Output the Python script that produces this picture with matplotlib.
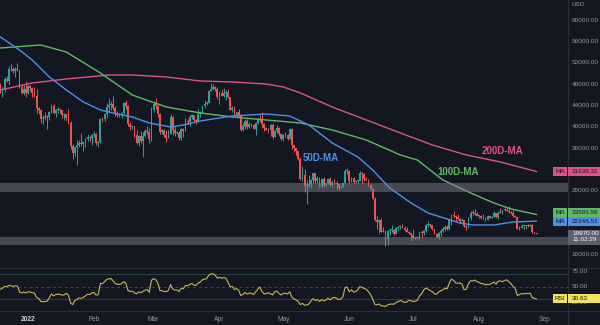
import numpy as np
import matplotlib.pyplot as plt
from matplotlib.patches import Rectangle
from matplotlib.lines import Line2D

plt.rcParams['font.family'] = ['Liberation Sans', 'DejaVu Sans']

# Daily BTC/USD candles from 19 Dec 2021 to 28 Aug 2022 (day 0 = 1 Jan 2022)
first_day = -13
first_open = 46880
closes = [
    # Dec
    46707, 46880, 48936, 48628, 50784, 50822, 50429, 50809, 50640, 47588, 46444, 47178, 46306,
    # Jan
    47686, 47345, 46458, 45897, 43569, 43160, 41558, 41734, 41912, 41821, 42735, 43949, 42591, 43099, 43177,
    43113, 42250, 42375, 41744, 40680, 36457, 35030, 36276, 36654, 36954, 36852, 37138, 37784, 38138, 37917, 38483,
    # Feb
    38743, 36952, 37154, 41501, 41441, 42412, 43840, 44118, 44338, 43565, 42407, 42244, 42197, 42586,
    44575, 43961, 40538, 40030, 40122, 38431, 37075, 38286, 37296, 38332, 39214, 39105, 37709, 43193,
    # Mar
    44354, 43925, 42451, 39137, 39400, 38420, 37988, 38730, 41941, 39439, 38794, 38904, 37849, 39666, 39338,
    41143, 40951, 41801, 42191, 41247, 41077, 42358, 42892, 43960, 44348, 44500, 46820, 47128, 47465, 47062, 45538,
    # Apr
    46281, 45868, 46453, 46622, 45555, 43206, 43503, 42287, 42782, 42207, 39521, 40127, 41166, 39936, 40553,
    40424, 39716, 40826, 41503, 41374, 40527, 39741, 39486, 39470, 40458, 38117, 39241, 39773, 38609, 37714,
    # May
    38469, 38529, 37750, 39698, 36575, 36040, 35501, 34059, 30297, 31023, 28936, 29048, 29284, 30102, 31305,
    29863, 30425, 28721, 30315, 29200, 29432, 30323, 29098, 29655, 29562, 29268, 28628, 28814, 29446, 31726, 31792,
    # Jun
    29800, 30452, 29700, 29865, 29919, 31373, 31125, 30204, 30110, 29084, 28424, 26575, 22487, 22206, 22572,
    20381, 20472, 19018, 20554, 20711, 20724, 19988, 21085, 21232, 21502, 21028, 20735, 20281, 20105, 19785,
    # Jul
    19270, 19243, 19297, 20232, 20190, 20549, 21637, 21732, 21592, 20861, 19970, 19323, 20212, 20569, 20837,
    21190, 20779, 22485, 23390, 23231, 23164, 22714, 22465, 22609, 21361, 21239, 22930, 23843, 23805, 23656, 23336,
    # Aug
    23314, 22978, 22846, 22630, 23289, 22961, 23175, 23810, 23149, 23954, 23934, 24403, 24441, 24305,
    24094, 23854, 23342, 23191, 20834, 21140, 21516, 21400, 21529, 21368, 21560, 20241, 20037, 19970,
]
highs = [
    48300, 47540, 49330, 49570, 51380, 51810, 51160, 51240, 52090, 50690, 48120, 47890, 48550,
    47830, 47950, 47560, 47500, 47070, 43750, 43280, 42300, 42790, 42220, 43080, 44280, 44400, 43440, 43750,
    43460, 43180, 42650, 42510, 43420, 41050, 36800, 36480, 37500, 37520, 38900, 37200, 38000, 38680, 38330, 38700,
    39230, 38850, 37400, 41720, 41920, 42600, 44480, 45490, 44790, 45820, 43900, 43000, 42700, 42850,
    44730, 44980, 44180, 40950, 40420, 40130, 39460, 38420, 39250, 38970, 39650, 40120, 39820, 43700,
    44930, 45350, 44090, 42530, 39610, 39630, 39450, 39370, 42500, 41990, 40190, 39330, 39260, 39890, 39870,
    41680, 41460, 42250, 42370, 42280, 41550, 43330, 42990, 44190, 45050, 44790, 46920, 48190, 48100, 47650, 47560,
    46690, 47180, 47400, 46870, 47170, 45600, 43900, 43950, 42800, 43380, 42420, 40670, 41490, 41450, 40850,
    40690, 40580, 40990, 41700, 42200, 42800, 40800, 39930, 39840, 40630, 40790, 39460, 40350, 39920, 38790,
    38660, 39150, 38640, 39900, 39830, 36620, 36140, 35510, 34300, 32610, 32150, 30050, 30960, 30270, 31400,
    31310, 30730, 30650, 30500, 30710, 29590, 30430, 30630, 29790, 30180, 29850, 29360, 28980, 29530, 32200, 32380,
    31960, 30620, 30660, 29920, 30150, 31710, 31550, 31300, 30650, 30310, 29390, 28540, 26880, 23290, 22710,
    22950, 21300, 20710, 20770, 21050, 21680, 20870, 21190, 21500, 21600, 21840, 21470, 21190, 20420, 20130,
    20820, 19370, 19580, 20300, 20670, 20620, 21800, 22410, 21880, 21620, 20880, 20040, 20290, 20850, 21190,
    21530, 21620, 22750, 23770, 24270, 23430, 23740, 22990, 23000, 22650, 21560, 23050, 24170, 24420, 24600, 24130,
    23470, 23450, 23620, 23200, 23430, 23360, 23330, 24230, 23920, 24170, 24880, 24440, 24880, 25050,
    25200, 24230, 24440, 23590, 23200, 21370, 21790, 21520, 21670, 21850, 21800, 21780, 20350, 20130,
]
lows = [
    46420, 45580, 46640, 48420, 47950, 50440, 50200, 49420, 50460, 47340, 46100, 46060, 45710,
    46220, 46750, 45700, 45530, 42650, 42510, 40670, 40500, 41250, 39650, 41290, 42600, 42350, 41880, 42660,
    42630, 41620, 41290, 41260, 40630, 35790, 34050, 34650, 32950, 36200, 36410, 35580, 36200, 37400, 37370, 36650,
    38110, 36660, 36270, 37050, 40920, 41130, 41700, 42730, 43140, 43240, 42060, 41800, 41880, 41600,
    42460, 43330, 40150, 39480, 39640, 38050, 36810, 36380, 37040, 34320, 38030, 38640, 37050, 37450,
    42850, 43340, 41860, 38680, 38610, 38090, 37180, 37880, 38660, 38570, 38260, 38670, 37600, 37610, 38170,
    39200, 40520, 40150, 41550, 40890, 40530, 40950, 41800, 42630, 43620, 44160, 44430, 46700, 46960, 46660, 45250,
    44230, 45820, 45540, 45150, 45450, 43150, 42770, 42140, 42120, 41910, 39230, 39260, 39600, 39620, 39800,
    40030, 39580, 38550, 40600, 40870, 39790, 39220, 39380, 38960, 38230, 37740, 38070, 38900, 38220, 37620,
    37420, 38100, 37550, 37680, 35880, 35300, 34800, 33740, 30040, 29830, 27800, 25600, 28780, 28630, 29540,
    29500, 29480, 28700, 28720, 28760, 28980, 29290, 28950, 28700, 29340, 28290, 28250, 28530, 28810, 29310, 31210,
    29330, 29600, 29340, 29470, 29500, 29890, 29220, 29880, 29970, 28860, 28160, 26560, 22320, 20850, 20110,
    20240, 20260, 17600, 17930, 19690, 20340, 19790, 19900, 20750, 20920, 20990, 20530, 20220, 19850, 18650,
    19020, 18980, 18850, 19070, 19330, 19820, 20270, 21190, 21330, 20680, 19900, 19250, 18920, 19650, 20390,
    20560, 20750, 20760, 21700, 22990, 22340, 22520, 21950, 22310, 21280, 20740, 21050, 22600, 23450, 23540, 23260,
    22870, 22700, 22720, 22450, 22600, 22900, 22870, 23170, 22900, 22700, 23860, 23610, 24330, 24160,
    23840, 23720, 23210, 23120, 20790, 20680, 21080, 20940, 20960, 21160, 21350, 20140, 19850, 19870,
]
rsi = [
    46, 47.5, 50.5, 50, 52, 51.5, 50.5, 51.5, 51, 42, 40, 41.5, 40,
    42, 41.5, 40.5, 40, 33, 31.5, 26.5, 26, 26.5, 27, 32, 38.5, 35.5, 37.5, 38,
    38, 36.5, 37, 39.5, 36.5, 24, 21.5, 28, 30, 32, 31.5, 33, 35.5, 38, 37.5, 40,
    41, 36.5, 37.5, 55, 55, 58, 61.5, 62.5, 63, 59.5, 55, 54, 53.5, 55,
    58, 55.5, 44, 42.5, 43, 40.5, 38.5, 41.5, 40.5, 42.5, 44.5, 45.5, 41, 60,
    63, 61, 56, 44, 43.5, 42.5, 42, 44, 53.5, 46.5, 44.5, 45, 42, 47.5, 46.5,
    52, 51.5, 53.5, 55, 52.5, 52, 56, 57.5, 61, 62, 63, 68.5, 70.5, 70.5, 68.5, 63.5,
    65, 63.5, 64.5, 63.5, 57, 50, 50.5, 45.5, 47, 44.5, 36, 37.5, 41, 38, 40,
    39.5, 37.5, 42, 46, 49.5, 42, 38.5, 39, 40.5, 38.5, 37, 42, 43, 39, 37,
    39.5, 39.5, 38.5, 42, 33.5, 30.5, 29, 26.5, 21.5, 23.5, 20.5, 21, 22.5, 27.5, 31,
    28, 29.5, 26.5, 29.5, 27.5, 28.5, 32, 29, 32, 33, 31.5, 29.5, 30.5, 34, 48.5, 49.5,
    42, 45, 41.5, 42, 45, 50, 49, 47, 46, 42, 37.5, 30.5, 22, 21, 22.5,
    19.5, 19.5, 18.5, 21, 22, 22.5, 22, 25, 26.5, 28, 26.5, 25, 25.5, 28.5, 27.5,
    26.5, 27, 28.5, 35.5, 38.5, 45, 48, 46, 44, 42, 38.5, 38, 41.5, 43.5, 45,
    47.5, 46.5, 56, 62, 60, 56, 55.5, 56, 54, 45, 46, 55, 59.5, 59, 60.5, 58,
    57, 55, 54.5, 53, 54, 53.5, 55.5, 57.5, 54, 59, 59, 58, 60, 61,
    58, 55, 50, 47.5, 36, 37.5, 39, 38.5, 39.5, 39, 39.5, 32.5, 31.5, 30.63,
]

# Moving averages (sampled days)
ma50_days = [-13, -4, 2, 10, 18, 26, 34, 42, 49, 57, 67, 73, 81, 96, 112, 123, 132, 143, 155, 162,
             170, 180, 188, 197, 203, 209, 219, 228, 239]
ma50 = [56880, 54440, 52560, 49380, 46940, 44690, 43190, 42440, 41880, 40750, 40000, 40380, 41130, 42060,
        42440, 42060, 40380, 37000, 34380, 31940, 28560, 25750, 23880, 22750, 22000, 21630, 21630, 22190, 22346.51]
ma100_days = [-13, 6, 18, 34, 49, 65, 81, 96, 112, 128, 143, 159, 175, 183, 195, 208, 219, 227, 239]
ma100 = [54810, 55380, 54060, 50130, 46000, 43750, 42630, 41880, 41310, 40750, 39440, 37560, 34750, 33810,
         30060, 27630, 25750, 24630, 23593.56]
ma200_days = [-13, 2, 18, 38, 49, 65, 81, 96, 112, 120, 128, 143, 159, 175, 190, 206, 222, 239]
ma200 = [46940, 48250, 49000, 49750, 49750, 49380, 48630, 48440, 48060, 47500, 46380, 43750, 41310, 38880,
         36630, 34750, 33440, 31639.32]

zones = [(27800, 29450), (17800, 19400)]
price_ticks = [60000, 56000, 52000, 48000, 44000, 40000, 36000, 28000, 16000]
rsi_ticks = [75, 50, 25]
month_days = [0, 31, 59, 90, 120, 151, 181, 212, 243]
month_labels = ["2022", "Feb", "Mar", "Apr", "May", "Jun", "Jul", "Aug", "Sep"]
countdown = "11:02:29"

bg = "#131722"
grid_col = "#2a2e39"
axis_text = "#9598a1"
up_col, down_col = "#26a69a", "#ef5350"
c50, c100, c200 = "#4f8fe6", "#62b866", "#e0518a"
rsi_col = "#c9b45a"

W, H = 600, 325


def rect(x0, y0, x1, y1):
    # pixel box (origin top-left) -> figure fraction [left, bottom, width, height]
    return [x0 / W, 1 - y1 / H, (x1 - x0) / W, (y1 - y0) / H]


fig = plt.figure(figsize=(W / 100, H / 100), dpi=100, facecolor=bg)
ax = fig.add_axes(rect(0, 0, 568, 268))
ax_rsi = fig.add_axes(rect(0, 268, 568, 311))
for a in (ax, ax_rsi):
    a.set_facecolor(bg)
    a.set_xticks([])
    a.set_yticks([])
    for s in a.spines.values():
        s.set_visible(False)
    a.set_xlim(-13.16, 253.8)
ax.set_ylim(13560, 63810)
ax_rsi.set_ylim(11.3, 79.8)

# candles
closes = np.array(closes, dtype=float)
opens = np.r_[first_open, closes[:-1]]
highs = np.maximum(np.array(highs, dtype=float), np.maximum(opens, closes))
lows = np.minimum(np.array(lows, dtype=float), np.minimum(opens, closes))
days = np.arange(first_day, first_day + len(closes))
colors = np.where(closes >= opens, up_col, down_col)
ax.vlines(days, lows, highs, colors=colors, lw=0.7, zorder=2)
body = np.maximum(np.abs(closes - opens), 180)
ax.bar(days, body, bottom=np.minimum(opens, closes), width=0.82, color=colors, lw=0, zorder=2)

# support / resistance zones
for lo, hi in zones:
    ax.axhspan(lo, hi, color="#80838c", alpha=0.48, lw=0, zorder=4)

# moving averages
ax.plot(ma200_days, ma200, color=c200, lw=1, zorder=3)
ax.plot(ma100_days, ma100, color=c100, lw=1, zorder=3)
ax.plot(ma50_days, ma50, color=c50, lw=1, zorder=3)
ax.text(137.7, 34190, "50D-MA", color=c50, fontsize=7, fontweight="bold", ha="center", va="center")
ax.text(202.1, 31470, "100D-MA", color=c100, fontsize=7, fontweight="bold", ha="center", va="center")
ax.text(222.8, 35500, "200D-MA", color=c200, fontsize=7, fontweight="bold", ha="center", va="center")

# price scale
ytr = ax.get_yaxis_transform()
for p in price_ticks:
    ax.text(1.007, p, f"{p:.2f}", transform=ytr, color=axis_text, fontsize=4.6, va="center", ha="left")
fig.text(572 / W, 1 - 5 / H, "USD", color=axis_text, fontsize=4.6, va="center", ha="left")

# rsi pane
ax_rsi.plot(days, rsi, color=rsi_col, lw=0.8, zorder=3)
ax_rsi.axhline(70, color="#29413f", lw=0.8)
ax_rsi.axhline(30, color="#4e2a33", lw=0.8)
ax_rsi.axhline(50, color="#434651", lw=0.7, ls=(0, (3, 3)))
rtr = ax_rsi.get_yaxis_transform()
for r in rsi_ticks:
    ax_rsi.text(1.007, r, f"{r:.2f}", transform=rtr, color=axis_text, fontsize=4.6, va="center", ha="left")

# time axis
xtr = ax_rsi.get_xaxis_transform()
for d, lab in zip(month_days, month_labels):
    bold = lab == "2022"
    ax_rsi.text(d, -0.19, lab, transform=xtr, ha="center", va="center", fontsize=4.8,
                color="#d1d4dc" if bold else axis_text, fontweight="bold" if bold else "normal")

# pane separators
for y in (268, 311):
    fig.add_artist(Line2D([0, 1], [1 - y / H] * 2, color=grid_col, lw=0.8, transform=fig.transFigure))
fig.add_artist(Line2D([568 / W] * 2, [0, 1], color=grid_col, lw=0.8, transform=fig.transFigure))


def row_of(a, value):
    return H - a.transData.transform((0, value))[1]


def tag(y, label, text, color, fg):
    h = 9
    if label:
        fig.add_artist(Rectangle((553 / W, 1 - (y + h / 2) / H), 14 / W, h / H, transform=fig.transFigure,
                                 color=color, lw=0, zorder=5))
        fig.text(560 / W, 1 - y / H, label, color=fg, fontsize=4.6, ha="center", va="center", zorder=6)
    fig.add_artist(Rectangle((568 / W, 1 - (y + h / 2) / H), 32 / W, h / H, transform=fig.transFigure,
                             color=color, lw=0, zorder=5))
    fig.text(572 / W, 1 - y / H, text, color=fg, fontsize=4.6, ha="left", va="center", zorder=6)


y200 = row_of(ax, ma200[-1])
y50 = row_of(ax, ma50[-1])
y100 = min(row_of(ax, ma100[-1]), y50 - 9)
tag(y200, "MA", f"{ma200[-1]:.2f}", c200, "#131722")
tag(y100, "MA", f"{ma100[-1]:.2f}", c100, "#131722")
tag(y50, "MA", f"{ma50[-1]:.2f}", c50, "#131722")

# last price with candle countdown
yp = row_of(ax, closes[-1])
fig.add_artist(Rectangle((568 / W, 1 - (yp + 11) / H), 32 / W, 15 / H, transform=fig.transFigure,
                         color="#5d606b", lw=0, zorder=5))
fig.text(572 / W, 1 - yp / H, f"{closes[-1]:.2f}", color="white", fontsize=4.6, ha="left", va="center", zorder=6)
fig.text(572 / W, 1 - (yp + 6) / H, countdown, color="white", fontsize=4.6, ha="left", va="center", zorder=6)

yr = row_of(ax_rsi, rsi[-1])
tag(yr, "RSI", f"{rsi[-1]:.2f}", "#f2e35f", "#131722")

fig.savefig("out.png", dpi=100, facecolor=bg)
